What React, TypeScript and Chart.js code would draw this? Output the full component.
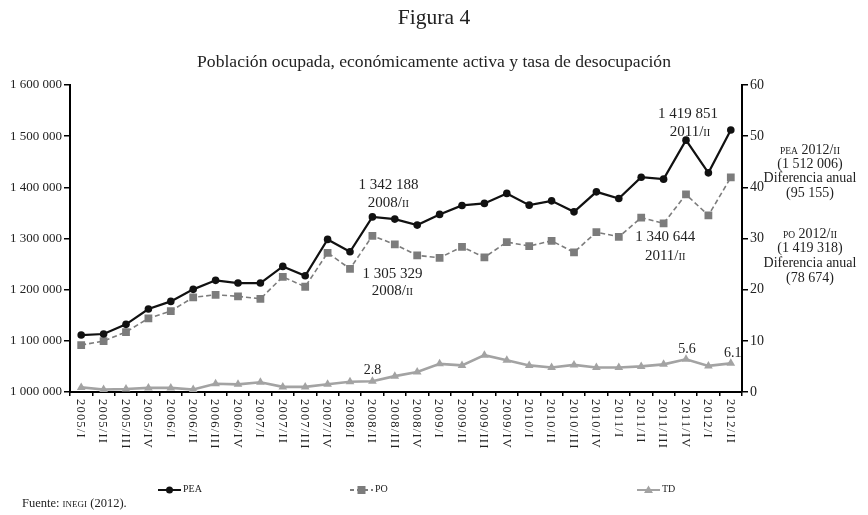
import React, { useEffect, useRef } from "react";
import { Chart, registerables } from "chart.js";

Chart.register(...registerables);

const categories = [
  "2005/I", "2005/II", "2005/III", "2005/IV",
  "2006/I", "2006/II", "2006/III", "2006/IV",
  "2007/I", "2007/II", "2007/III", "2007/IV",
  "2008/I", "2008/II", "2008/III", "2008/IV",
  "2009/I", "2009/II", "2009/III", "2009/IV",
  "2010/I", "2010/II", "2010/III", "2010/IV",
  "2011/I", "2011/II", "2011/III", "2011/IV",
  "2012/I", "2012/II",
];

const peaValues = [
  1111300, 1113300, 1132200, 1162100, 1177100, 1200600, 1218200, 1212900,
  1212900, 1245500, 1227100, 1298200, 1274000, 1342188, 1337900, 1326200,
  1347100, 1364600, 1368600, 1388100, 1365200, 1373600, 1352100, 1391200,
  1378300, 1419851, 1416000, 1492200, 1428300, 1512006,
];

const poValues = [
  1091800, 1099600, 1117200, 1143900, 1158200, 1185000, 1190000, 1187000,
  1182200, 1225200, 1205700, 1272100, 1240800, 1305329, 1288500, 1267000,
  1262300, 1283800, 1263100, 1293000, 1285200, 1295500, 1272900, 1312500,
  1303300, 1340644, 1329500, 1386100, 1345100, 1419318,
];

const tdValues = [
  0.9, 0.5, 0.6, 0.8, 0.8, 0.5, 1.6, 1.5, 1.9, 1.0,
  1.0, 1.5, 2.0, 2.1, 3.1, 3.9, 5.5, 5.2, 7.2, 6.2,
  5.2, 4.8, 5.3, 4.8, 4.8, 5.0, 5.4, 6.4, 5.1, 5.6,
];

const leftTicks = [1000000, 1600000, 100000];
const rightTicks = [0, 60, 10];

const FONT = "'Liberation Serif', 'DejaVu Serif', serif";
const PEA_COLOR = "#111111";
const PO_COLOR = "#7c7c7c";
const TD_COLOR = "#a3a3a3";
const TEXT_COLOR = "#222222";

const fmtThousands = (v: number) =>
  String(Math.round(v)).replace(/\B(?=(\d{3})+(?!\d))/g, " ");

type Part = [string, number];

function drawParts(ctx: CanvasRenderingContext2D, parts: Part[], x: number, y: number, align: "center" | "left" = "center") {
  let total = 0;
  const widths = parts.map(([t, s]) => {
    ctx.font = `${s}px ${FONT}`;
    const w = ctx.measureText(t).width;
    total += w;
    return w;
  });
  let cx = align === "center" ? x - total / 2 : x;
  ctx.textAlign = "left";
  ctx.textBaseline = "alphabetic";
  parts.forEach(([t, s], i) => {
    ctx.font = `${s}px ${FONT}`;
    ctx.fillText(t, cx, y);
    cx += widths[i];
  });
}

const overlayPlugin = {
  id: "overlay",
  afterDraw(chart: any) {
    const ctx: CanvasRenderingContext2D = chart.ctx;
    const xs = chart.scales.x;
    const ys = chart.scales.y;
    const yr = chart.scales.y1;
    const area = chart.chartArea;
    ctx.save();
    ctx.fillStyle = TEXT_COLOR;

    // Titles
    drawParts(ctx, [["Figura 4", 21.5]], 434, 24);
    drawParts(ctx, [["Población ocupada, económicamente activa y tasa de desocupación", 17.6]], 434, 67);

    // Rotated x labels (top to bottom)
    ctx.save();
    ctx.font = `12.5px ${FONT}`;
    (ctx as any).letterSpacing = "1.2px";
    categories.forEach((c, i) => {
      const x = xs.getPixelForValue(i);
      ctx.save();
      ctx.translate(x - 1, area.bottom + 7);
      ctx.rotate(Math.PI / 2);
      ctx.textAlign = "left";
      ctx.textBaseline = "middle";
      ctx.fillText(c, 0, 0);
      ctx.restore();
    });
    (ctx as any).letterSpacing = "0px";
    ctx.restore();

    // Annotations anchored to data points
    const pt = (arr: number[], i: number, scale: any) => ({ x: xs.getPixelForValue(i), y: scale.getPixelForValue(arr[i]) });
    const small = (year: string): Part[] => [[year + "/", 15], ["II", 10.5]];

    let p = pt(peaValues, 13, ys);
    drawParts(ctx, [[fmtThousands(peaValues[13]), 15]], p.x + 16, p.y - 28);
    drawParts(ctx, small("2008"), p.x + 16, p.y - 10);

    p = pt(poValues, 13, ys);
    drawParts(ctx, [[fmtThousands(poValues[13]), 15]], p.x + 20, p.y + 42);
    drawParts(ctx, small("2008"), p.x + 20, p.y + 59);

    p = pt(poValues, 25, ys);
    drawParts(ctx, [[fmtThousands(poValues[25]), 15]], p.x + 24, p.y + 23);
    drawParts(ctx, small("2011"), p.x + 24, p.y + 42);

    p = pt(peaValues, 27, ys);
    drawParts(ctx, [[fmtThousands(peaValues[25]), 15]], p.x + 2, p.y - 22);
    drawParts(ctx, small("2011"), p.x + 4, p.y - 4);

    p = pt(tdValues, 13, yr);
    drawParts(ctx, [["2.8", 14]], p.x, p.y - 7);
    p = pt(tdValues, 27, yr);
    drawParts(ctx, [["5.6", 14]], p.x + 1, p.y - 6);
    p = pt(tdValues, 29, yr);
    drawParts(ctx, [["6.1", 14]], p.x + 2, p.y - 6);

    // Right-side notes
    const nx = 810;
    drawParts(ctx, [["PEA", 9.5], [" 2012/", 14], ["II", 10]], nx, 154);
    drawParts(ctx, [["(1 512 006)", 14]], nx, 168);
    drawParts(ctx, [["Diferencia anual", 14]], nx, 182);
    drawParts(ctx, [["(95 155)", 14]], nx, 197);
    drawParts(ctx, [["PO", 9.5], [" 2012/", 14], ["II", 10]], nx, 238);
    drawParts(ctx, [["(1 419 318)", 14]], nx, 252);
    drawParts(ctx, [["Diferencia anual", 14]], nx, 267);
    drawParts(ctx, [["(78 674)", 14]], nx, 282);

    // Legend
    const ly = 490;
    const legendItems = [
      { x: 158, label: "PEA", color: PEA_COLOR, dash: [] as number[], marker: "circle" },
      { x: 350, label: "PO", color: PO_COLOR, dash: [4, 3], marker: "rect" },
      { x: 637, label: "TD", color: TD_COLOR, dash: [] as number[], marker: "triangle" },
    ];
    legendItems.forEach((it) => {
      ctx.save();
      ctx.strokeStyle = it.color;
      ctx.fillStyle = it.color;
      ctx.lineWidth = 2;
      ctx.setLineDash(it.dash);
      ctx.beginPath();
      ctx.moveTo(it.x, ly);
      ctx.lineTo(it.x + 23, ly);
      ctx.stroke();
      ctx.setLineDash([]);
      const cx = it.x + 11.5;
      ctx.beginPath();
      if (it.marker === "circle") {
        ctx.arc(cx, ly, 3.5, 0, Math.PI * 2);
        ctx.fill();
      } else if (it.marker === "rect") {
        ctx.fillRect(cx - 4, ly - 4, 8, 8);
      } else {
        ctx.moveTo(cx, ly - 4.5);
        ctx.lineTo(cx + 4.5, ly + 3);
        ctx.lineTo(cx - 4.5, ly + 3);
        ctx.closePath();
        ctx.fill();
      }
      ctx.restore();
      ctx.fillStyle = TEXT_COLOR;
      drawParts(ctx, [[it.label, 10]], it.x + 25, ly + 2, "left");
    });

    // Source
    drawParts(ctx, [["Fuente: ", 12.5], ["INEGI", 9], [" (2012).", 12.5]], 22, 507, "left");

    ctx.restore();
  },
};

export default function App() {
  const ref = useRef<HTMLCanvasElement | null>(null);

  useEffect(() => {
    if (!ref.current) return;
    const chart = new Chart(ref.current, {
      type: "line",
      data: {
        labels: categories,
        datasets: [
          {
            label: "PEA",
            data: peaValues,
            yAxisID: "y",
            borderColor: PEA_COLOR,
            backgroundColor: PEA_COLOR,
            borderWidth: 2.2,
            pointStyle: "circle",
            pointRadius: 3.8,
            pointBorderWidth: 0,
            tension: 0,
          },
          {
            label: "PO",
            data: poValues,
            yAxisID: "y",
            borderColor: PO_COLOR,
            backgroundColor: PO_COLOR,
            borderWidth: 1.6,
            borderDash: [5, 3],
            pointStyle: "rect",
            pointRadius: 5.5,
            pointBorderWidth: 0,
            tension: 0,
          },
          {
            label: "TD",
            data: tdValues,
            yAxisID: "y1",
            borderColor: TD_COLOR,
            backgroundColor: TD_COLOR,
            borderWidth: 2.6,
            pointStyle: "triangle",
            pointRadius: 5,
            pointBorderWidth: 0,
            tension: 0,
          },
        ],
      },
      options: {
        responsive: false,
        animation: false,
        layout: { padding: { top: 85, bottom: 123, left: 0, right: 0 } },
        plugins: {
          legend: { display: false },
          tooltip: { enabled: false },
          title: { display: false },
        },
        scales: {
          x: {
            type: "category",
            offset: true,
            grid: {
              display: true,
              drawOnChartArea: false,
              drawTicks: true,
              tickLength: 4,
              color: "#000",
              lineWidth: 1.5,
              offset: true,
            },
            border: { color: "#000", width: 2 },
            ticks: { display: false },
            afterFit: (s: any) => {
              s.height = 0;
            },
          },
          y: {
            position: "left",
            min: leftTicks[0],
            max: leftTicks[1],
            ticks: {
              stepSize: leftTicks[2],
              callback: (v: any) => fmtThousands(Number(v)),
              color: TEXT_COLOR,
              font: { family: FONT, size: 13 },
              padding: 2,
            },
            grid: { drawOnChartArea: false, tickLength: 6, color: "#000", lineWidth: 1.5 },
            border: { color: "#000", width: 2 },
            afterFit: (s: any) => {
              s.width = 70;
            },
          },
          y1: {
            position: "right",
            min: rightTicks[0],
            max: rightTicks[1],
            ticks: {
              stepSize: rightTicks[2],
              color: TEXT_COLOR,
              font: { family: FONT, size: 14 },
              padding: 2,
            },
            grid: { drawOnChartArea: false, tickLength: 6, color: "#000", lineWidth: 1.5 },
            border: { color: "#000", width: 2 },
            afterFit: (s: any) => {
              s.width = 126;
            },
          },
        },
      },
      plugins: [overlayPlugin],
    });
    return () => chart.destroy();
  }, []);

  return (
    <div style={{ position: "absolute", left: 0, top: 0, width: 868, height: 515, background: "#fff" }}>
      <canvas ref={ref} width={868} height={515} style={{ width: 868, height: 515, display: "block" }} />
    </div>
  );
}
